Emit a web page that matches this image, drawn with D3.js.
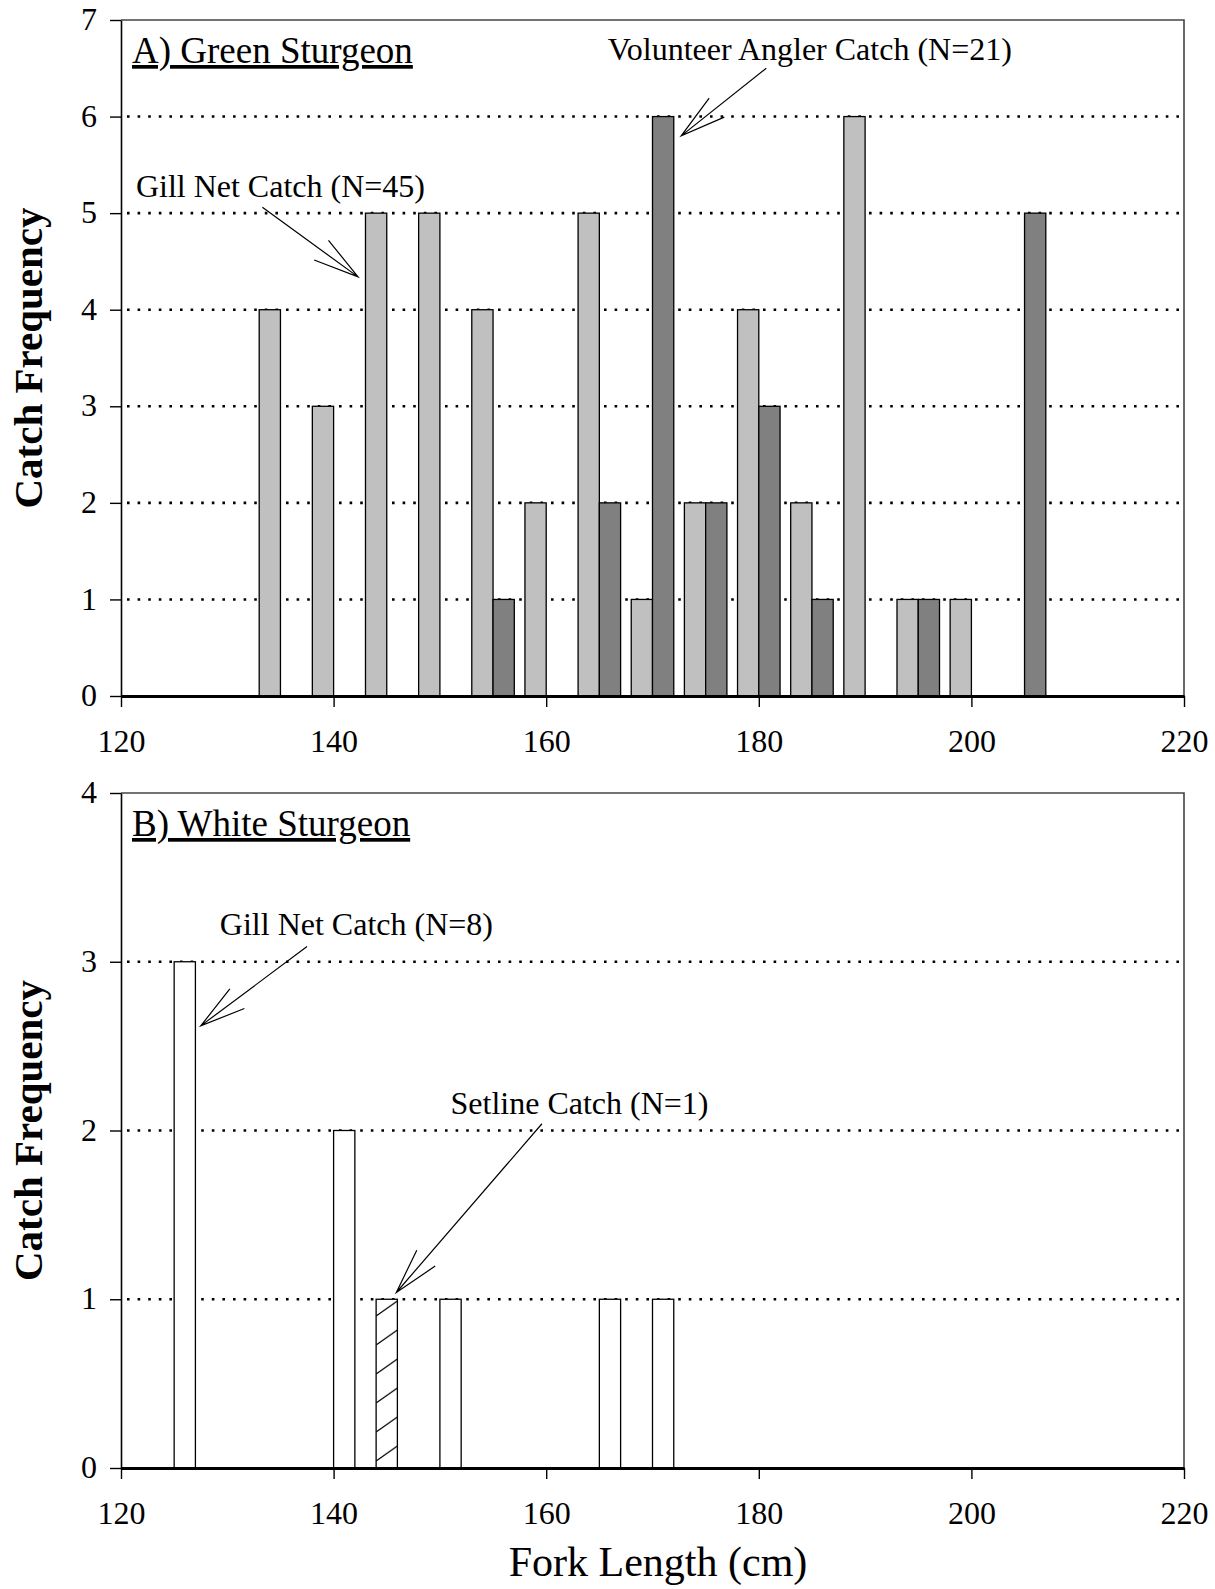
<!DOCTYPE html>
<html>
<head>
<meta charset="utf-8">
<script src="https://cdn.jsdelivr.net/npm/d3@7/dist/d3.min.js"></script>
<style>
  html, body { margin: 0; padding: 0; background: #fff; }
  text { font-family: "Liberation Serif", "Times New Roman", serif; fill: #000; }
</style>
</head>
<body>
<div id="chart"></div>
<script>
// Fork length classes (cm) and catch counts
const lengthsA = [135, 140, 145, 150, 155, 160, 165, 170, 175, 180, 185, 190, 195, 200, 205];
const gillNetA = [4, 3, 5, 5, 4, 2, 5, 1, 2, 4, 2, 6, 1, 1, 0];
const anglerA  = [0, 0, 0, 0, 1, 0, 2, 6, 2, 3, 1, 0, 1, 0, 5];

// White sturgeon: left edge of each 2 cm bar
const gillLengthsB = [125, 140, 150, 165, 170];
const gillNetB     = [3, 2, 1, 1, 1];
const setLengthsB  = [144];
const setlineB     = [1];

const xTicks = [120, 140, 160, 180, 200, 220];
const yTicksA = [0, 1, 2, 3, 4, 5, 6, 7];
const yTicksB = [0, 1, 2, 3, 4];

// annotation arrows in data units: [fromLength, fromFreq, toLength, toFreq]
const arrowsA = [[133.3, 5.06, 142.3, 4.34], [180.7, 6.50, 172.7, 5.80]];
const arrowsB = [[137.5, 3.09, 127.5, 2.62], [159.6, 2.04, 145.9, 1.04]];

const labelsA = [
  { text: 'Gill Net Catch (N=45)', x: 121.4, y: 5.17 },
  { text: 'Volunteer Angler Catch (N=21)', x: 165.8, y: 6.59 }
];
const labelsB = [
  { text: 'Gill Net Catch (N=8)', x: 129.3, y: 3.16 },
  { text: 'Setline Catch (N=1)', x: 151.0, y: 2.10 }
];

const width = 1215, height = 1589;
const svg = d3.select('#chart').append('svg')
  .attr('width', width)
  .attr('height', height)
  .style('background', '#fff');

const x = d3.scaleLinear().domain([120, 220]).range([121, 1184]);

const defs = svg.append('defs');

/**
 * Draws one panel: gridlines, bars, axes, title and arrows
 */
function drawPanel(opts) {
  const y = d3.scaleLinear().domain([0, opts.yMax]).range([opts.bottom, opts.top]);
  const g = svg.append('g');

  // dotted gridlines
  g.selectAll('line.grid')
    .data(opts.yTicks.filter(t => t > 0 && t < opts.yMax))
    .enter().append('line')
    .attr('x1', x(120) + 6).attr('x2', x(220) - 2)
    .attr('y1', d => y(d)).attr('y2', d => y(d))
    .attr('stroke', '#000')
    .attr('stroke-width', 2.6)
    .attr('stroke-dasharray', '2.6 8');

  // plot border (top and right)
  g.append('path')
    .attr('d', `M${x(120)},${y(opts.yMax)}H${x(220)}V${y(0)}`)
    .attr('fill', 'none')
    .attr('stroke', '#444')
    .attr('stroke-width', 1.6);

  // bars
  opts.series.forEach(s => {
    const rows = s.lengths.map((l, i) => ({ l, v: s.values[i] })).filter(d => d.v > 0);
    g.selectAll(null)
      .data(rows)
      .enter().append('rect')
      .attr('x', d => x(d.l + s.offset))
      .attr('width', d => x(d.l + s.offset + 2) - x(d.l + s.offset))
      .attr('y', d => y(d.v))
      .attr('height', d => y(0) - y(d.v))
      .attr('fill', s.fill)
      .attr('stroke', '#000')
      .attr('stroke-width', 1.3);
  });

  // axes
  const yAxis = d3.axisLeft(y).tickValues(opts.yTicks).tickFormat(d3.format('d'))
    .tickSize(11).tickSizeOuter(0).tickPadding(13);
  const ya = g.append('g').attr('transform', `translate(${x(120)},0)`).call(yAxis);
  ya.select('.domain').attr('stroke', '#000').attr('stroke-width', 1.6);
  ya.selectAll('.tick line').attr('stroke', '#000').attr('stroke-width', 1.4);
  ya.selectAll('.tick text').attr('font-size', 32).attr('font-family', 'Liberation Serif').attr('dy', '0.3em');

  const xAxis = d3.axisBottom(x).tickValues(xTicks).tickFormat(d3.format('d'))
    .tickSize(11).tickSizeOuter(0).tickPadding(22);
  const xa = g.append('g').attr('transform', `translate(0,${y(0)})`).call(xAxis);
  xa.select('.domain').attr('stroke', '#000').attr('stroke-width', 3);
  xa.selectAll('.tick line').attr('stroke', '#000').attr('stroke-width', 1.4);
  xa.selectAll('.tick text').attr('font-size', 32).attr('font-family', 'Liberation Serif');

  // y axis title
  g.append('text')
    .attr('transform', `translate(42,${(opts.top + opts.bottom) / 2}) rotate(-90)`)
    .attr('text-anchor', 'middle')
    .attr('font-size', 41)
    .attr('font-weight', 'bold')
    .text('Catch Frequency');

  // panel title
  g.append('text')
    .attr('x', x(120) + 11)
    .attr('y', opts.top + 43)
    .attr('font-size', 37)
    .style('text-decoration', 'underline')
    .text(opts.title);

  // annotation labels
  g.selectAll(null)
    .data(opts.labels)
    .enter().append('text')
    .attr('x', d => x(d.x))
    .attr('y', d => y(d.y))
    .attr('font-size', 32)
    .text(d => d.text);

  // arrows with open heads
  opts.arrows.forEach(a => {
    const x0 = x(a[0]), y0 = y(a[1]), x1 = x(a[2]), y1 = y(a[3]);
    const ang = Math.atan2(y0 - y1, x0 - x1);
    const len = 47, spread = 15 * Math.PI / 180;
    const p = d3.path();
    p.moveTo(x0, y0); p.lineTo(x1, y1);
    p.moveTo(x1 + len * Math.cos(ang - spread), y1 + len * Math.sin(ang - spread));
    p.lineTo(x1, y1);
    p.lineTo(x1 + len * Math.cos(ang + spread), y1 + len * Math.sin(ang + spread));
    g.append('path')
      .attr('d', p.toString())
      .attr('fill', 'none')
      .attr('stroke', '#000')
      .attr('stroke-width', 1.2);
  });

  return y;
}

drawPanel({
  top: 20, bottom: 696, yMax: 7, yTicks: yTicksA,
  title: 'A) Green Sturgeon',
  series: [
    { lengths: lengthsA, values: gillNetA, offset: -2, fill: '#c0c0c0' },
    { lengths: lengthsA, values: anglerA, offset: 0, fill: '#808080' }
  ],
  labels: labelsA,
  arrows: arrowsA
});

// hatch for setline bar, aligned to the bar's left edge
const hatchW = x(setLengthsB[0] + 2) - x(setLengthsB[0]);
const hatch = defs.append('pattern')
  .attr('id', 'hatch')
  .attr('patternUnits', 'userSpaceOnUse')
  .attr('x', x(setLengthsB[0]))
  .attr('y', 1468)
  .attr('width', hatchW)
  .attr('height', 29);
hatch.append('rect').attr('width', hatchW).attr('height', 29).attr('fill', '#fff');
hatch.append('line')
  .attr('x1', 0).attr('y1', 22)
  .attr('x2', hatchW).attr('y2', 7)
  .attr('stroke', '#000').attr('stroke-width', 1.2);

drawPanel({
  top: 793, bottom: 1468, yMax: 4, yTicks: yTicksB,
  title: 'B) White Sturgeon',
  series: [
    { lengths: gillLengthsB, values: gillNetB, offset: 0, fill: '#fff' },
    { lengths: setLengthsB, values: setlineB, offset: 0, fill: 'url(#hatch)' }
  ],
  labels: labelsB,
  arrows: arrowsB
});

// x axis title
svg.append('text')
  .attr('x', 658)
  .attr('y', 1576)
  .attr('text-anchor', 'middle')
  .attr('font-size', 42)
  .text('Fork Length (cm)');
</script>
</body>
</html>
